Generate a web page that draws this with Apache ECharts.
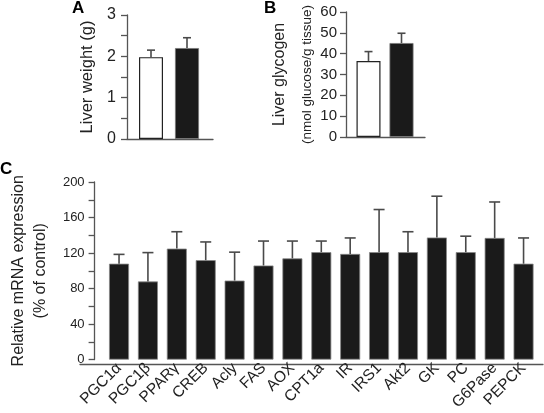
<!DOCTYPE html>
<html><head><meta charset="utf-8">
<script src="https://cdn.jsdelivr.net/npm/echarts@6/dist/echarts.min.js"></script>
<style>html,body{margin:0;padding:0;background:#fff}#c{width:544px;height:413px}</style>
</head><body><div id="c"></div>
<script>
const groupsAB = ['Control', 'Treated'];
const weightMean = [1.98, 2.2];
const weightErrTop = [2.15, 2.45];
const glycogenMean = [36.5, 45.1];
const glycogenErrTop = [41, 49.8];
const genes = ['PGC1\u03b1','PGC1\u03b2','PPAR\u03b3','CREB','Acly','FAS','AOX','CPT1a','IR','IRS1','Akt2','GK','PC','G6Pase','PEPCK'];
const geneMean = [108, 88, 125, 112, 89, 106, 114, 121, 119, 121, 121, 137.5, 121, 137, 108];
const geneErrTop = [118.5, 120.5, 144, 132.5, 121, 133.5, 133.5, 133.5, 137, 169, 144, 184, 139, 177.5, 137];
const ticksA = [0, 1, 2, 3];
const ticksC = [0, 40, 80, 120, 160, 200];

const FONT = "'Liberation Sans', Arial, Helvetica, sans-serif";
const AX = '#555';
const TXT = '#222';

function errSeries(xi, yi, means, tops, capW) {
  return {
    type: 'custom', xAxisIndex: xi, yAxisIndex: yi, z: 5,
    data: means.map((m, i) => [i, m, tops[i]]),
    renderItem: function (params, api) {
      const p0 = api.coord([api.value(0), api.value(1)]);
      const p1 = api.coord([api.value(0), api.value(2)]);
      const st = { stroke: '#4a4a4a', lineWidth: 1.6 };
      return { type: 'group', children: [
        { type: 'line', shape: { x1: p0[0], y1: p0[1], x2: p1[0], y2: p1[1] }, style: st },
        { type: 'line', shape: { x1: p1[0] - capW / 2, y1: p1[1], x2: p1[0] + capW / 2, y2: p1[1] }, style: st }
      ]};
    }
  };
}

function lineAxisPair(gi) {
  return [
    { type: 'value', gridIndex: gi, min: 0, max: 1, axisLine: { show: true, lineStyle: { color: AX, width: 1.3 } }, axisTick: { show: false }, axisLabel: { show: false }, splitLine: { show: false } },
    { type: 'value', gridIndex: gi, min: 0, max: 1, show: false }
  ];
}

const chart = echarts.init(document.getElementById('c'), null, { renderer: 'canvas' });
const la3 = lineAxisPair(3), la4 = lineAxisPair(4), la5 = lineAxisPair(5);

const catAxis = (gi, data, showLabels) => ({
  type: 'category', gridIndex: gi, data: data,
  axisLine: { show: false }, axisTick: { show: false },
  axisLabel: showLabels ? { show: true, rotate: 45, margin: 6, fontSize: 15.5, color: TXT, fontFamily: FONT, interval: 0 } : { show: false },
  splitLine: { show: false }
});

const yAxisBase = (gi, opt) => Object.assign({
  type: 'value', gridIndex: gi, offset: 6,
  axisLine: { show: true, lineStyle: { color: AX, width: 1.3 } },
  axisTick: { show: true, length: 6, lineStyle: { color: AX, width: 1.3 } },
  splitLine: { show: false },
  nameLocation: 'middle', nameRotate: 90,
  nameTextStyle: { color: TXT, fontFamily: FONT, fontSize: 16.5 }
}, opt);

const letter = { fontSize: 17, fontWeight: 'bold', color: '#000', fontFamily: FONT };

chart.setOption({
  animation: false,
  backgroundColor: '#fff',
  title: [
    { text: 'A', left: 72, top: 0, padding: 0, textStyle: letter },
    { text: 'B', left: 264, top: 0, padding: 0, textStyle: letter },
    { text: 'C', left: 0, top: 161, padding: 0, textStyle: letter }
  ],
  grid: [
    { left: 133, width: 72, top: 15, height: 124 },
    { left: 352, width: 66, top: 12, height: 125 },
    { left: 90, width: 448, top: 182, height: 182 },
    { left: 127, width: 86, top: 15, height: 124 },
    { left: 346, width: 79, top: 12, height: 125 },
    { left: 80, width: 463, top: 182, height: 182 }
  ],
  xAxis: [
    catAxis(0, groupsAB, false),
    catAxis(1, groupsAB, false),
    catAxis(2, genes, true),
    la3[0], la4[0], la5[0]
  ],
  yAxis: [
    yAxisBase(0, { min: 0, max: 3, interval: 0.5, name: 'Liver weight (g)', nameGap: 31,
      axisLabel: { fontSize: 16, color: TXT, fontFamily: FONT, margin: 11,
        formatter: v => ticksA.indexOf(v) >= 0 ? String(v) : '' } }),
    yAxisBase(1, { min: 0, max: 60, interval: 10, name: '{a|Liver glycogen}\n{b|(nmol glucose/g tissue)}', nameGap: 25,
      nameTextStyle: { color: TXT, fontFamily: FONT, rich: {
        a: { fontSize: 16, color: TXT, fontFamily: FONT, lineHeight: 26 },
        b: { fontSize: 13.5, color: TXT, fontFamily: FONT, lineHeight: 28 } } },
      axisLabel: { fontSize: 15, color: TXT, fontFamily: FONT, margin: 9 } }),
    yAxisBase(2, { offset: 10, min: 0, max: 200, interval: 20, name: 'Relative mRNA expression\n(% of control)', nameGap: 38,
      nameTextStyle: { color: TXT, fontFamily: FONT, fontSize: 16, lineHeight: 22 },
      axisLabel: { fontSize: 13, color: TXT, fontFamily: FONT, margin: 10,
        formatter: v => ticksC.indexOf(v) >= 0 ? String(v) : '' } }),
    la3[1], la4[1], la5[1]
  ],
  series: [
    { type: 'bar', xAxisIndex: 0, yAxisIndex: 0, barWidth: 24,
      data: weightMean.map((v, i) => ({ value: v, itemStyle: i === 0 ? { color: '#fff', borderColor: '#222', borderWidth: 1.2 } : { color: '#1a1a1a', borderColor: '#777', borderWidth: 0.8 } })) },
    errSeries(0, 0, weightMean, weightErrTop, 8),
    { type: 'bar', xAxisIndex: 1, yAxisIndex: 1, barWidth: 24,
      data: glycogenMean.map((v, i) => ({ value: v, itemStyle: i === 0 ? { color: '#fff', borderColor: '#222', borderWidth: 1.2 } : { color: '#1a1a1a', borderColor: '#777', borderWidth: 0.8 } })) },
    errSeries(1, 1, glycogenMean, glycogenErrTop, 8),
    { type: 'bar', xAxisIndex: 2, yAxisIndex: 2, barWidth: 20,
      itemStyle: { color: '#1a1a1a', borderColor: '#888', borderWidth: 0.8 },
      data: geneMean },
    errSeries(2, 2, geneMean, geneErrTop, 11)
  ]
});
</script></body></html>
